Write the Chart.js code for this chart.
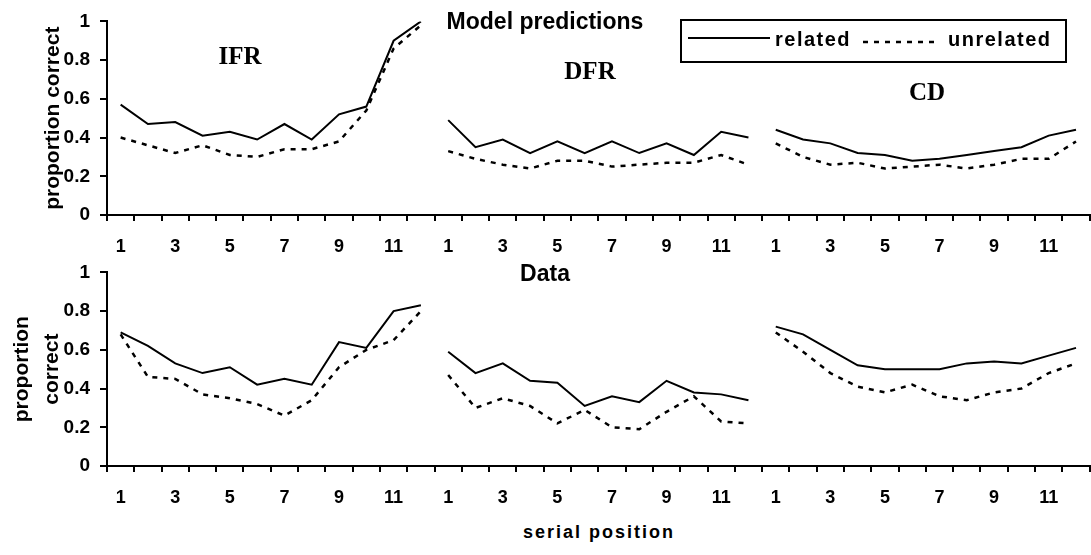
<!DOCTYPE html>
<html lang="en">
<head>
    <meta charset="UTF-8">
    <title>Model predictions and data</title>
    <style>
        body {
            margin: 0;
            padding: 0;
            width: 1091px;
            height: 555px;
            background: #fff;
            position: relative;
            overflow: hidden;
            font-family: "Liberation Sans", Arial, sans-serif;
            font-weight: bold;
            color: #000;
        }

        canvas {
            position: absolute;
            left: 0;
        }

        .label {
            position: absolute;
            line-height: 1;
            white-space: nowrap;
            transform: translateX(-50%);
        }

        .serif {
            font-family: "Liberation Serif", "Times New Roman", serif;
            font-size: 25px;
        }

        #legend {
            position: absolute;
            left: 680px;
            top: 19px;
            width: 387px;
            height: 44px;
            border: 2px solid #000;
            box-sizing: border-box;
            font-size: 20px;
            letter-spacing: 1.5px;
        }

        #legend span {
            position: absolute;
            top: 8px;
            line-height: 1;
        }

        #legend svg {
            position: absolute;
            left: 0;
            top: 0;
        }
    </style>
    <script src="https://cdn.jsdelivr.net/npm/chart.js"></script>
</head>
<body>
    <canvas id="modelChart" width="1091" height="258" style="top:0"></canvas>
    <canvas id="dataChart" width="1091" height="258" style="top:251px"></canvas>

    <div class="label" style="left:545px; top:10px; font-size:23px;">Model predictions</div>
    <div class="label" style="left:545px; top:262px; font-size:23px;">Data</div>
    <div class="label serif" style="left:240px; top:43px;">IFR</div>
    <div class="label serif" style="left:590px; top:58px;">DFR</div>
    <div class="label serif" style="left:927px; top:79px;">CD</div>
    <div class="label" style="left:599px; top:523px; font-size:18px; letter-spacing:2px;">serial position</div>

    <div id="legend">
        <svg width="383" height="40">
            <line x1="6" y1="17" x2="88" y2="17" stroke="#000" stroke-width="2"/>
            <line x1="181" y1="21" x2="258" y2="21" stroke="#000" stroke-width="2.5" stroke-dasharray="5 6"/>
        </svg>
        <span style="left:93px">related</span>
        <span style="left:266px">unrelated</span>
    </div>

    <script>
        // kondisi / grup
        const groups = ["IFR", "DFR", "CD"];
        const xTickLabels = ["1", "", "3", "", "5", "", "7", "", "9", "", "11", ""];
        const yTickLabels = ["0", "0.2", "0.4", "0.6", "0.8", "1"];

        // prediksi model (atas)
        const ifrModelRelated   = [0.57, 0.47, 0.48, 0.41, 0.43, 0.39, 0.47, 0.39, 0.52, 0.56, 0.90, 1.00];
        const ifrModelUnrelated = [0.40, 0.36, 0.32, 0.36, 0.31, 0.30, 0.34, 0.34, 0.38, 0.54, 0.86, 0.98];
        const dfrModelRelated   = [0.49, 0.35, 0.39, 0.32, 0.38, 0.32, 0.38, 0.32, 0.37, 0.31, 0.43, 0.40];
        const dfrModelUnrelated = [0.33, 0.29, 0.26, 0.24, 0.28, 0.28, 0.25, 0.26, 0.27, 0.27, 0.31, 0.26];
        const cdModelRelated    = [0.44, 0.39, 0.37, 0.32, 0.31, 0.28, 0.29, 0.31, 0.33, 0.35, 0.41, 0.44];
        const cdModelUnrelated  = [0.37, 0.30, 0.26, 0.27, 0.24, 0.25, 0.26, 0.24, 0.26, 0.29, 0.29, 0.38];

        // data (bawah)
        const ifrDataRelated   = [0.69, 0.62, 0.53, 0.48, 0.51, 0.42, 0.45, 0.42, 0.64, 0.61, 0.80, 0.83];
        const ifrDataUnrelated = [0.68, 0.46, 0.45, 0.37, 0.35, 0.32, 0.26, 0.34, 0.51, 0.60, 0.65, 0.80];
        const dfrDataRelated   = [0.59, 0.48, 0.53, 0.44, 0.43, 0.31, 0.36, 0.33, 0.44, 0.38, 0.37, 0.34];
        const dfrDataUnrelated = [0.47, 0.30, 0.35, 0.31, 0.22, 0.29, 0.20, 0.19, 0.28, 0.36, 0.23, 0.22];
        const cdDataRelated    = [0.72, 0.68, 0.60, 0.52, 0.50, 0.50, 0.50, 0.53, 0.54, 0.53, 0.57, 0.61];
        const cdDataUnrelated  = [0.69, 0.59, 0.48, 0.41, 0.38, 0.42, 0.36, 0.34, 0.38, 0.40, 0.48, 0.53];

        const FONT = "'Liberation Sans', Arial, sans-serif";
        Chart.defaults.font.family = FONT;
        Chart.defaults.font.weight = "bold";
        Chart.defaults.color = "#000";

        // 36 kategori: 12 posisi untuk tiap grup
        const labels = [];
        groups.forEach(g => {
            for (let i = 1; i <= 12; i++) labels.push(g + " " + i);
        });

        // putus garis di antara grup
        const breakSegment = ctx => (ctx.p0DataIndex % 12 === 11 ? "rgba(0,0,0,0)" : "#000");

        function makeChart(id, related, unrelated, yTitle, titlePad, titleLineHeight) {
            const ctx = document.getElementById(id).getContext("2d");
            return new Chart(ctx, {
                type: "line",
                data: {
                    labels: labels,
                    datasets: [
                        {
                            label: "related",
                            data: related,
                            borderColor: "#000",
                            borderWidth: 2,
                            pointRadius: 0,
                            tension: 0,
                            segment: { borderColor: breakSegment },
                        },
                        {
                            label: "unrelated",
                            data: unrelated,
                            borderColor: "#000",
                            borderWidth: 2.5,
                            borderDash: [5, 6],
                            pointRadius: 0,
                            tension: 0,
                            segment: { borderColor: breakSegment },
                        },
                    ],
                },
                options: {
                    responsive: false,
                    animation: false,
                    layout: { padding: { top: 16, left: 0, right: 0, bottom: 0 } },
                    plugins: {
                        legend: { display: false },
                        tooltip: { enabled: false },
                    },
                    scales: {
                        x: {
                            offset: true,
                            grid: {
                                offset: true,
                                drawOnChartArea: false,
                                tickLength: 6,
                                color: "#000",
                                lineWidth: 2,
                            },
                            border: { display: true, color: "#000", width: 2 },
                            ticks: {
                                autoSkip: false,
                                maxRotation: 0,
                                padding: 15,
                                font: { size: 18, weight: "bold" },
                                callback: (v, i) => xTickLabels[i % 12],
                            },
                            afterFit: s => { s.height = 43; },
                        },
                        y: {
                            min: 0,
                            max: 1,
                            grid: {
                                drawOnChartArea: false,
                                tickLength: 7,
                                color: "#000",
                                lineWidth: 2,
                            },
                            border: { display: true, color: "#000", width: 2 },
                            ticks: {
                                stepSize: 0.2,
                                padding: 10,
                                font: { size: 19, weight: "bold" },
                                callback: (v, i) => yTickLabels[i],
                            },
                            title: {
                                display: true,
                                text: yTitle,
                                font: { size: 21, weight: "bold", lineHeight: titleLineHeight },
                                padding: { top: titlePad, bottom: 0 },
                            },
                            afterFit: s => { s.width = 107; },
                        },
                    },
                },
            });
        }

        makeChart(
            "modelChart",
            [...ifrModelRelated, ...dfrModelRelated, ...cdModelRelated],
            [...ifrModelUnrelated, ...dfrModelUnrelated, ...cdModelUnrelated],
            "proportion correct", 41, 1.2
        );

        makeChart(
            "dataChart",
            [...ifrDataRelated, ...dfrDataRelated, ...cdDataRelated],
            [...ifrDataUnrelated, ...dfrDataUnrelated, ...cdDataUnrelated],
            ["proportion", "correct"], 8, 1.4
        );
    </script>
</body>
</html>
